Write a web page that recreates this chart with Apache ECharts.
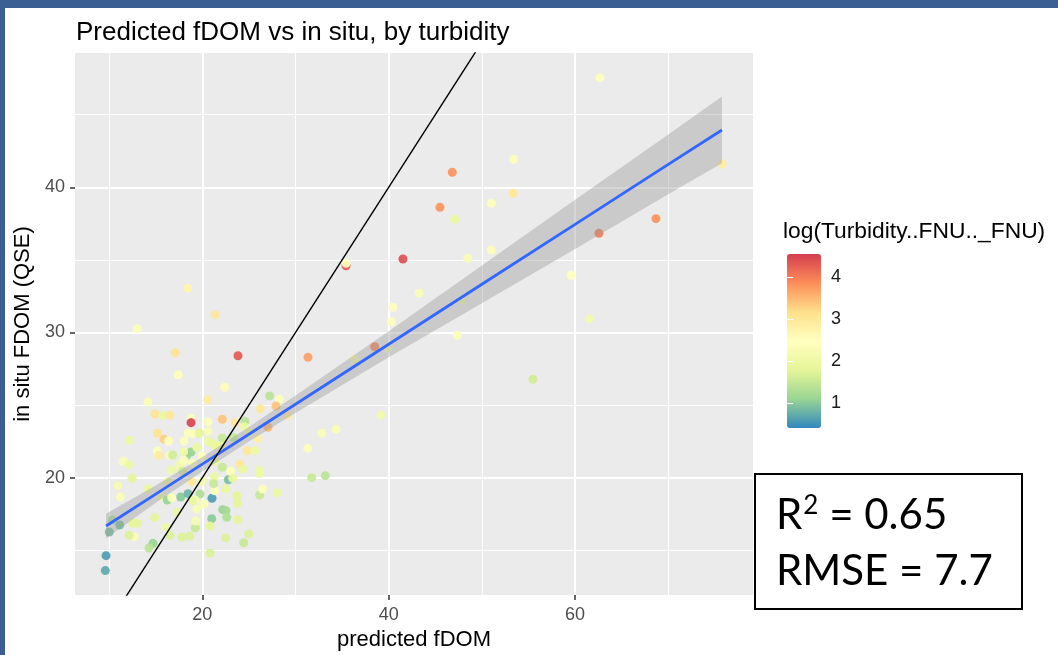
<!DOCTYPE html>
<html>
<head>
<meta charset="utf-8">
<title>Predicted fDOM vs in situ</title>
<script src="https://cdn.jsdelivr.net/npm/echarts@6/dist/echarts.min.js"></script>
<style>
  html, body { margin: 0; padding: 0; background: #fff; }
  #chart { width: 1058px; height: 655px; }
</style>
</head>
<body>
<div id="chart"></div>
<script>
// points: predicted fDOM, in situ FDOM (QSE), log(turbidity)
const predicted = [62.67, 53.41, 46.82, 45.50, 47.08, 51.01, 53.34, 41.53, 35.42, 35.42, 51.01, 48.48, 43.28, 47.87, 40.43, 40.28, 47.36, 18.43, 21.39, 12.99,
  75.79, 68.68, 62.56, 59.56, 61.52, 55.48, 17.10, 23.83, 31.34, 38.50, 39.92, 17.42, 36.35, 22.40, 14.17, 20.58, 27.23, 28.26, 26.22, 27.91,
  14.92, 15.78, 16.53, 18.79, 18.79, 22.15, 23.51, 24.58, 20.61, 29.12, 15.17, 15.89, 16.39, 18.50, 18.97, 19.72, 20.64, 18.04, 12.17, 20.61,
  21.29, 22.15, 23.33, 24.51, 25.98, 27.05, 32.81, 34.35, 39.17, 15.17, 15.32, 16.46, 16.82, 18.33, 18.79, 19.40, 18.00, 11.52, 12.10, 12.46,
  10.95, 11.20, 24.83, 25.65, 31.31, 17.53, 18.04, 16.64, 17.90, 18.97, 19.94, 21.33, 22.15, 23.05, 24.04, 24.33, 26.12, 26.12, 31.74, 33.20,
  16.32, 18.86, 20.00, 21.29, 22.79, 14.17, 15.57, 16.24, 17.68, 18.47, 19.75, 21.04, 21.33, 22.54, 21.22, 23.69, 23.76, 26.16, 26.48, 28.05,
  19.22, 16.72, 17.32, 19.40, 20.15, 19.00, 22.19, 22.54, 22.62, 21.01, 23.83, 14.89, 10.34, 11.14, 10.02, 12.53, 13.03, 12.70, 12.14, 16.10,
  16.53, 17.82, 18.65, 19.25, 19.29, 20.83, 22.51, 24.98, 24.44, 14.71, 14.28, 20.83, 9.67, 9.59, 25.12, 21.01, 21.90, 23.26];
const inSitu = [47.55, 41.93, 41.03, 38.62, 37.80, 38.90, 39.59, 35.06, 34.60, 34.77, 35.68, 35.11, 32.72, 32.24, 31.74, 30.74, 29.81, 33.04, 31.23, 30.26,
  41.60, 37.84, 36.83, 33.94, 30.95, 26.78, 28.61, 28.40, 28.29, 29.02, 28.93, 27.09, 28.15, 26.23, 25.21, 25.37, 25.63, 25.40, 24.75, 24.94,
  24.39, 24.27, 24.30, 24.09, 23.79, 24.02, 23.79, 23.88, 23.84, 24.30, 23.08, 22.64, 22.53, 23.08, 23.03, 23.06, 23.20, 22.53, 22.58, 22.51,
  22.25, 22.73, 22.78, 23.51, 22.69, 23.47, 23.06, 23.33, 24.32, 21.84, 21.52, 21.52, 21.56, 21.54, 21.77, 22.09, 21.79, 21.13, 20.90, 19.96,
  19.45, 18.67, 21.86, 21.86, 22.02, 20.87, 21.20, 20.53, 20.44, 20.99, 21.49, 21.13, 20.72, 20.44, 20.92, 20.58, 20.51, 20.28, 20.00, 20.14,
  19.72, 19.72, 19.77, 20.07, 19.86, 19.22, 18.72, 18.46, 18.67, 18.90, 18.88, 18.58, 19.10, 19.22, 19.59, 18.76, 18.24, 18.81, 19.22, 18.97,
  18.46, 18.62, 17.64, 17.84, 18.19, 18.42, 17.80, 17.73, 17.27, 17.18, 17.11, 17.25, 17.09, 16.74, 16.26, 16.86, 16.88, 15.92, 16.03, 16.58,
  16.03, 15.90, 15.98, 16.54, 17.02, 16.67, 15.85, 16.12, 15.52, 15.48, 15.16, 14.81, 14.63, 13.60, 23.10, 22.37, 22.18, 19.96];
const logTurb = [2.4, 2.4, 3.8, 3.8, 1.9, 2.4, 3.0, 4.4, 4.3, 2.5, 2.4, 2.3, 2.3, 2.1, 2.5, 2.4, 2.4, 2.7, 3.0, 2.4,
  2.9, 3.8, 4.0, 2.5, 2.1, 1.6, 3.1, 4.3, 3.7, 3.9, 2.3, 2.5, 2.2, 2.4, 2.4, 2.9, 1.4, 2.4, 3.0, 3.4,
  3.1, 1.9, 3.0, 2.5, 4.5, 3.4, 3.0, 1.4, 2.4, 2.9, 3.1, 3.3, 2.5, 2.4, 2.4, 1.8, 2.3, 2.4, 2.0, 2.0,
  1.9, 1.5, 1.5, 2.0, 2.8, 3.5, 2.3, 2.3, 2.1, 2.4, 2.9, 2.3, 1.6, 1.1, 1.1, 1.9, 2.1, 2.3, 2.0, 1.8,
  2.2, 2.3, 3.0, 2.0, 2.4, 2.1, 2.4, 2.0, 1.6, 2.4, 2.4, 1.9, 1.5, 2.4, 3.0, 1.9, 2.0, 2.0, 1.5, 1.4,
  1.9, 3.0, 2.1, 1.9, 0.9, 1.9, 2.0, 1.1, 1.0, 0.8, 1.3, 0.6, 2.4, 1.9, 1.5, 1.8, 1.8, 1.5, 2.4, 1.9,
  2.4, 2.4, 1.9, 2.3, 2.3, 1.9, 1.1, 1.2, 1.3, 1.0, 1.8, 1.8, 1.3, 0.9, 0.9, 1.8, 1.8, 2.3, 1.7, 2.0,
  1.7, 1.7, 1.7, 1.5, 2.2, 1.8, 1.7, 1.7, 1.5, 1.1, 1.4, 1.7, 0.6, 0.7, 2.0, 1.9, 1.9, 1.9];

// linear fit (blue) and its confidence band, read at a few x positions
const bandX = [9.67, 15, 20, 25, 30, 40, 50, 60, 70, 75.76];
const fitY = [16.67, 18.87, 20.93, 22.99, 25.06, 29.19, 33.32, 37.45, 41.58, 43.95];
const bandHi = [17.52, 19.47, 21.43, 23.49, 25.66, 30.09, 34.62, 39.15, 43.63, 46.25];
const bandLo = [15.82, 18.27, 20.43, 22.49, 24.46, 28.29, 32.02, 35.75, 39.53, 41.65];

// 1:1 reference line end values
const oneToOne = [0, 80];

// axis ticks
const xMajor = [20, 40, 60];
const xMinor = [10, 30, 50, 70];
const yMajor = [20, 30, 40];
const yMinor = [15, 25, 35, 45];
const legendTicks = [1, 2, 3, 4];

const spectral = ['#3288BD', '#99D594', '#E6F598', '#FFFFBF', '#FEE08B', '#FC8D59', '#D53E4F'];
const FONT = 'Liberation Sans, Arial, sans-serif';
const BOXFONT = 'Lato, "Open Sans", sans-serif';

const chart = echarts.init(document.getElementById('chart'));

const points = predicted.map((x, i) => [x, inSitu[i], logTurb[i]]);
const fitLine = bandX.map((x, i) => [x, fitY[i]]);

const option = {
  animation: false,
  backgroundColor: '#ffffff',
  title: {
    text: 'Predicted fDOM vs in situ, by turbidity',
    left: 71, top: 15,
    textStyle: { fontFamily: FONT, fontSize: 26, fontWeight: 'normal', color: '#000' }
  },
  grid: [
    { left: 75, right: 305, top: 53, bottom: 60, show: true, backgroundColor: '#EBEBEB', borderWidth: 0, outerBoundsMode: 'none', containLabel: false },
    { left: 787, top: 254, width: 34, height: 174, show: false, outerBoundsMode: 'none', containLabel: false }
  ],
  xAxis: [
    {
      type: 'value', gridIndex: 0, min: 6.34, max: 79.09,
      name: 'predicted fDOM', nameLocation: 'middle', nameGap: 32,
      nameTextStyle: { fontFamily: FONT, fontSize: 22, color: '#000' },
      axisLine: { show: false },
      axisTick: { show: true, customValues: xMajor, length: 5, lineStyle: { color: '#333', width: 1.5 } },
      axisLabel: { customValues: xMajor, fontFamily: FONT, fontSize: 18, color: '#4D4D4D', margin: 11 },
      splitLine: { show: true, lineStyle: { color: '#ffffff', width: 2 } }
    },
    {
      type: 'value', gridIndex: 0, min: 6.34, max: 79.09, position: 'top',
      axisLine: { show: false },
      axisTick: { show: false, customValues: xMinor },
      axisLabel: { show: false, customValues: xMinor },
      splitLine: { show: true, lineStyle: { color: '#ffffff', width: 1 } }
    },
    { type: 'value', gridIndex: 1, min: 0, max: 1, show: false }
  ],
  yAxis: [
    {
      type: 'value', gridIndex: 0, min: 11.92, max: 49.25,
      name: 'in situ FDOM (QSE)', nameLocation: 'middle', nameGap: 31, nameRotate: 90,
      nameTextStyle: { fontFamily: FONT, fontSize: 22, color: '#000' },
      axisLine: { show: false },
      axisTick: { show: true, customValues: yMajor, length: 5, lineStyle: { color: '#333', width: 1.5 } },
      axisLabel: { customValues: yMajor, fontFamily: FONT, fontSize: 18, color: '#4D4D4D', margin: 10 },
      splitLine: { show: true, lineStyle: { color: '#ffffff', width: 2 } }
    },
    {
      type: 'value', gridIndex: 0, min: 11.92, max: 49.25, position: 'right',
      axisLine: { show: false },
      axisTick: { show: false, customValues: yMinor },
      axisLabel: { show: false, customValues: yMinor },
      splitLine: { show: true, lineStyle: { color: '#ffffff', width: 1 } }
    },
    {
      type: 'value', gridIndex: 1, min: 0.41, max: 4.54, position: 'right', z: 10,
      axisLine: { show: false },
      axisTick: { show: true, inside: true, length: 6, customValues: legendTicks, lineStyle: { color: '#ffffff', width: 1 } },
      axisLabel: { customValues: legendTicks, fontFamily: FONT, fontSize: 18, color: '#1a1a1a', margin: 10 },
      splitLine: { show: false }
    },
    {
      type: 'value', gridIndex: 1, min: 0.41, max: 4.54, position: 'left', z: 10,
      axisLine: { show: false },
      axisTick: { show: true, inside: true, length: 6, customValues: legendTicks, lineStyle: { color: '#ffffff', width: 1 } },
      axisLabel: { show: false },
      splitLine: { show: false }
    }
  ],
  visualMap: {
    type: 'continuous', min: 0.41, max: 4.54, dimension: 2, seriesIndex: 0,
    calculable: false, hoverLink: false, realtime: false,
    left: 787, top: 254, itemWidth: 34, itemHeight: 174, padding: 0,
    inRange: { color: spectral },
    text: null
  },
  series: [
    {
      type: 'scatter', xAxisIndex: 0, yAxisIndex: 0,
      data: points, symbolSize: 9,
      itemStyle: { opacity: 0.92 }, z: 2
    },
    {
      type: 'custom', xAxisIndex: 0, yAxisIndex: 0, z: 3,
      data: [[bandX[0], bandLo[0]]],
      renderItem: function (params, api) {
        const pts = [];
        for (let i = 0; i < bandX.length; i++) pts.push(api.coord([bandX[i], bandHi[i]]));
        for (let i = bandX.length - 1; i >= 0; i--) pts.push(api.coord([bandX[i], bandLo[i]]));
        return { type: 'polygon', shape: { points: pts }, style: { fill: '#999999', opacity: 0.4 } };
      }
    },
    {
      type: 'line', xAxisIndex: 0, yAxisIndex: 0, z: 4,
      data: fitLine, showSymbol: false, symbol: 'none',
      lineStyle: { color: '#3366FF', width: 2.8 }
    },
    {
      type: 'line', xAxisIndex: 0, yAxisIndex: 0, z: 5, clip: true,
      data: oneToOne.map(v => [v, v]), showSymbol: false, symbol: 'none',
      lineStyle: { color: '#000000', width: 1.4 }
    }
  ],
  graphic: [
    { type: 'rect', left: 0, top: 0, shape: { width: 1058, height: 8 }, style: { fill: '#3B5F92' } },
    { type: 'rect', left: 0, top: 0, shape: { width: 5, height: 655 }, style: { fill: '#3B5F92' } },
    {
      type: 'text', left: 783, top: 220,
      style: { text: 'log(Turbidity..FNU.._FNU)', font: '22.8px ' + FONT, fill: '#000' }
    },
    {
      type: 'rect', left: 754, top: 473,
      shape: { width: 267, height: 135 },
      style: { fill: '#ffffff', stroke: '#000000', lineWidth: 2 }
    },
    {
      type: 'text', left: 776, top: 486,
      style: {
        text: '{m|R}{s|2}{m| = 0.65}',
        rich: {
          m: { font: '42px ' + BOXFONT, fill: '#000', lineHeight: 50, verticalAlign: 'bottom' },
          s: { font: '26px ' + BOXFONT, fill: '#000', lineHeight: 27, verticalAlign: 'top', padding: [7, 0, 0, 1] }
        }
      }
    },
    {
      type: 'text', left: 776, top: 550,
      style: { text: 'RMSE = 7.7', font: '42px ' + BOXFONT, fill: '#000' }
    }
  ]
};

chart.setOption(option);
window.addEventListener('resize', function () { chart.resize(); });
</script>
</body>
</html>
